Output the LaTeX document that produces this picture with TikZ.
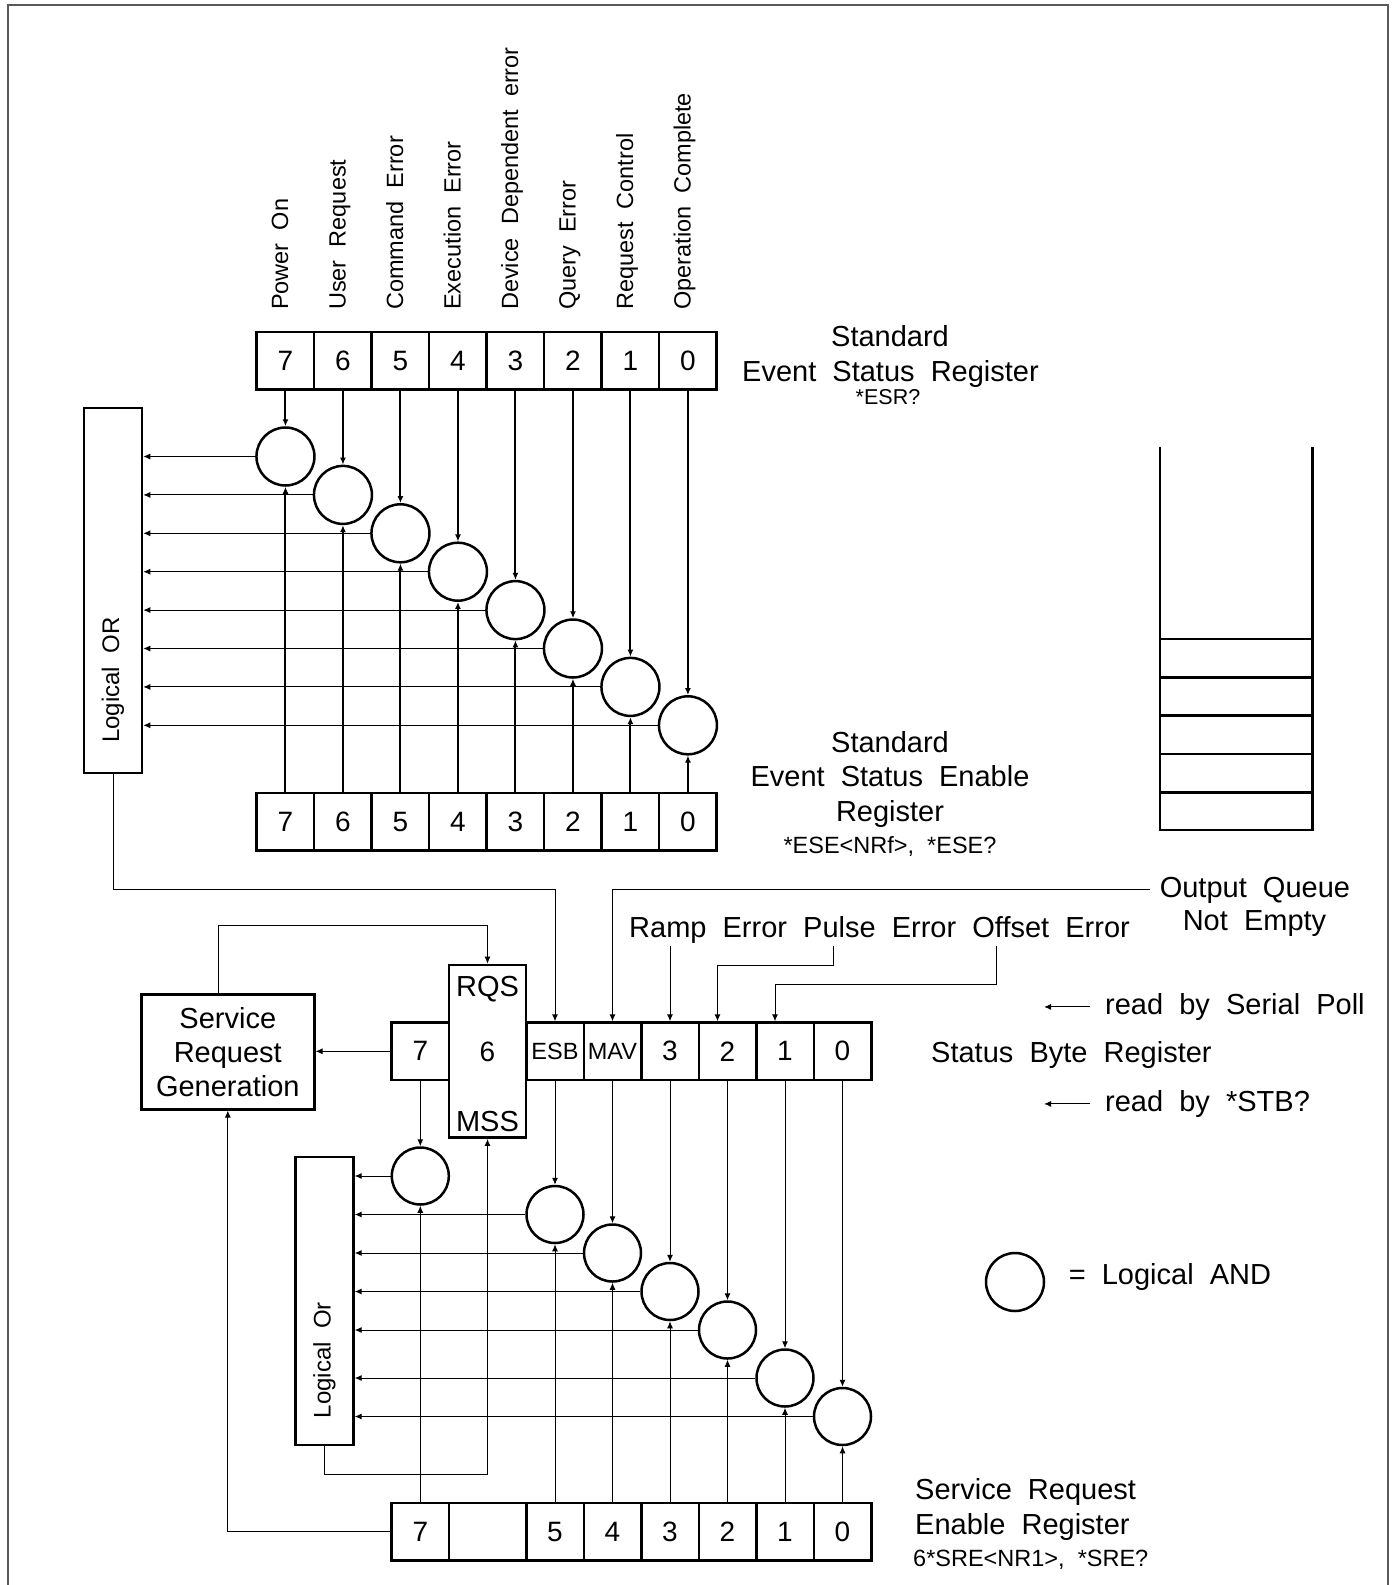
\documentclass[tikz,border=0pt]{standalone}
\usepackage{fontspec}
\setmainfont{Liberation Sans}[WordSpace=2]
\usetikzlibrary{arrows.meta}

\newcommand{\fntbig}{\fontsize{29}{34}\selectfont}
\newcommand{\fntcell}{\fontsize{28}{30}\selectfont}
\newcommand{\fntsmall}{\fontsize{23.5}{26}\selectfont}

\tikzset{
  cell/.style={draw, line width=2.5pt, minimum width=57.5pt, minimum height=57.5pt, inner sep=0pt, font=\fntcell},
  widecell/.style={draw, line width=2.5pt, minimum width=77pt, minimum height=57.5pt, inner sep=0pt},
  andgate/.style={draw, circle, line width=2.5pt, minimum size=58pt, inner sep=0pt},
  orbox/.style={draw, line width=2.5pt, minimum width=58pt, inner sep=0pt},
  txt/.style={inner sep=0pt, font=\fntbig},
  bitlabel/.style={inner sep=0pt, font=\fntsmall, rotate=90, anchor=mid west},
  arr/.style={-{Latex[length=7pt,width=6pt]}, line width=1pt},
  thickarr/.style={-{Latex[length=7pt,width=6pt]}, line width=2pt},
}

\begin{document}
\begin{tikzpicture}[x=1pt,y=1pt,yscale=-1]
\useasboundingbox (0,0) rectangle (1396,1585);
% frame
\draw[line width=2.5pt, black!65] (8,1600) -- (8,5) -- (1388,5) -- (1388,1600);

% standard event status register
\foreach \b/\lbl [count=\i from 0] in {7/Power On, 6/User Request, 5/Command Error, 4/Execution Error, 3/Device Dependent error, 2/Query Error, 1/Request Control, 0/Operation Complete} {
  \node[bitlabel] (esrlbl\b) at (285.45+57.5*\i,310) {\lbl};
  \node[cell] (esr\b) at (285.45+57.5*\i,360.5) {\b};
  \node[cell] (ese\b) at (285.45+57.5*\i,821.5) {\b};
  \node[andgate] (and\b) at (285.45+57.5*\i,456.5+38.4*\i) {};
}
\node[orbox, minimum height=365pt] (esbor) at (113,590.7) {};
\node[bitlabel, anchor=center, font=\fontsize{24}{26}\selectfont] (esbortext) at (113,680) {Logical OR};
\foreach \b in {7,...,0} {
  \draw[thickarr] (esr\b) -- (and\b);
  \draw[thickarr] (ese\b) -- (and\b);
  \draw[arr] (and\b.west) -- (and\b.west -| esbor.east);
}

\node[txt, anchor=base] (esrname) at (890,346) {Standard};
\node[txt, anchor=base] (esrname2) at (890.5,381.4) {Event Status Register};
\node[txt, anchor=base, font=\fontsize{21.5}{24}\selectfont] (esrcmd) at (888,404) {*ESR?};
\node[txt, anchor=base] (esename) at (890,752.4) {Standard};
\node[txt, anchor=base] (esename2) at (890,786.4) {Event Status Enable};
\node[txt, anchor=base] (esename3) at (890,821.4) {Register};
\node[txt, anchor=base, font=\fntsmall] (esecmd) at (890,853.4) {*ESE<NRf>, *ESE?};

% output queue
\draw[line width=2.5pt] (1160,446.7) -- (1160,830) -- (1312.7,830) -- (1312.7,446.7);
\foreach \y in {639,677.3,715.7,754,792.3}
  \draw[line width=2.5pt] (1160,\y) -- (1312.7,\y);

% status byte register
\node[draw, line width=2.5pt, minimum width=173pt, minimum height=115pt, align=center, font=\fntbig] (srg) at (227.8,1051.8) {Service\\Request\\Generation};
\node[cell] (sb7) at (420.3,1051.3) {7};
\node[draw, line width=2.5pt, minimum width=77pt, minimum height=172.7pt, inner sep=0pt] (rqs) at (487.5,1051.3) {};
\node[txt, anchor=base] (rqstext) at (487.5,996.4) {RQS};
\node[txt, anchor=base, font=\fntcell] (rqsbit) at (487.5,1061.4) {6};
\node[txt, anchor=base] (msstext) at (487.5,1131) {MSS};
\node[cell, font=\fntsmall] (sb5) at (555,1051.3) {ESB};
\node[cell, font=\fntsmall] (sb4) at (612.5,1051.3) {MAV};
\foreach \b [count=\i from 0] in {3,2,1,0}
  \node[cell] (sb\b) at (670+57.5*\i,1051.3) {\b};

\node[txt, anchor=base west, inner xsep=10pt] (oq1) at (1149.6,897) {Output Queue};
\node[txt, anchor=base] (oq2) at (1254.5,930.4) {Not Empty};
\node[txt, anchor=base west] (errs) at (629,937.4) {Ramp Error Pulse Error Offset Error};
\coordinate (ramptap) at (670,946);
\coordinate (pulsetap) at (833.6,946);
\coordinate (offsettap) at (996,946);
\draw[arr] (esbor.south) -- ++(0,115.3) -| (sb5.north);
\draw[arr] (oq1.west) -| (sb4.north);
\draw[arr] (ramptap) -- (sb3.north);
\draw[arr] (pulsetap) -- ++(0,19) -| ([xshift=-10pt]sb2.north);
\draw[arr] (offsettap) -- ++(0,38) -| ([xshift=-10pt]sb1.north);

\node[txt, anchor=base west, inner xsep=15pt] (rsp) at (1090,1014.4) {read by Serial Poll};
\coordinate (rspend) at (1044,1004);
\draw[arr] (rsp.west) -- (rsp.west -| rspend);
\node[txt, anchor=base west] (sbname) at (931,1062.4) {Status Byte Register};
\node[txt, anchor=base west, inner xsep=15pt] (rstb) at (1090,1111.4) {read by *STB?};
\coordinate (rstbend) at (1044,1101);
\draw[arr] (rstb.west) -- (rstb.west -| rstbend);

% service request enable
\node[andgate, minimum size=57pt] (land7) at (420.3,1176) {};
\foreach \b/\cy [count=\i from 0] in {5/1214.5,4/1253,3/1291.5,2/1330,1/1378,0/1416.5}
  \node[andgate, minimum size=57pt] (land\b) at (555+57.5*\i,\cy) {};
\node[cell] (sre7) at (420.3,1531.7) {7};
\node[widecell] (sre6) at (487.5,1531.7) {};
\foreach \b [count=\i from 0] in {5,...,0}
  \node[cell] (sre\b) at (555+57.5*\i,1531.7) {\b};
\node[orbox, minimum height=288pt] (sbor) at (324.4,1301) {};
\node[bitlabel, anchor=center, font=\fontsize{24}{26}\selectfont] (sbortext) at (324.4,1360) {Logical Or};
\foreach \b in {7,5,4,3,2,1,0} {
  \draw[arr] (sb\b) -- (land\b);
  \draw[arr] (sre\b) -- (land\b);
  \draw[arr] (land\b.west) -- (land\b.west -| sbor.east);
}
\draw[arr] (sb7.west) -- (sb7.west -| srg.east);
\draw[arr] ([xshift=-9.2pt]srg.north) -- ++(0,-67.6) -| (rqs.north);
\draw[arr] (sbor.south) -- ++(0,28.3) -| (rqs.south);
\draw[arr] (sre7.west) -| (srg.south);

\node[andgate] (legand) at (1015,1282) {};
\node[txt, anchor=base west] (legtext) at (1068.6,1284.4) {= Logical AND};

\node[txt, anchor=base west] (srename) at (915,1499.4) {Service Request};
\node[txt, anchor=base west] (srename2) at (915,1534) {Enable Register};
\node[txt, anchor=base west, font=\fntsmall] (srecmd) at (913,1566.4) {6*SRE<NR1>, *SRE?};
\end{tikzpicture}
\end{document}
